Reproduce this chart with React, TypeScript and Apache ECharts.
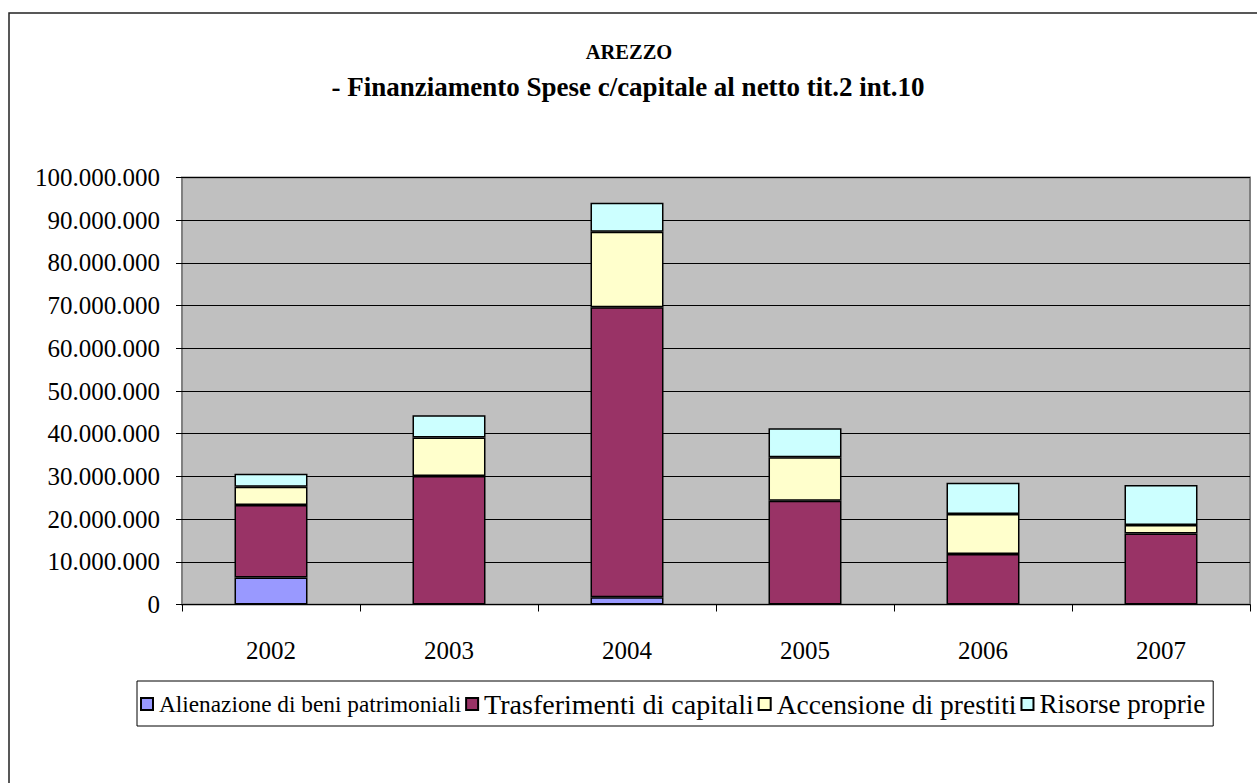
import React, { useEffect, useRef } from "react";
import * as echarts from "echarts";

const years = ["2002", "2003", "2004", "2005", "2006", "2007"];
const alienazione = [6.3, 0, 1.7, 0, 0, 0];
const trasferimenti = [17.0, 30.1, 67.9, 24.3, 11.8, 16.6];
const accensione = [4.3, 9.0, 17.7, 10.2, 9.4, 2.0];
const risorse = [3.0, 5.2, 6.8, 6.8, 7.3, 9.4];
const seriesNames = [
  "Alienazione di beni patrimoniali",
  "Trasferimenti di capitali",
  "Accensione di prestiti",
  "Risorse proprie",
];
const seriesColors = ["#9999FF", "#993366", "#FFFFCC", "#CCFFFF"];
const titleMain = "AREZZO";
const titleSub = "- Finanziamento Spese c/capitale al netto tit.2 int.10";

const toUnits = (arr: number[]) => arr.map((v) => (v === 0 ? "-" : Math.round(v * 1000000)));

function fmt(v: number) {
  return String(Math.round(v)).replace(/\B(?=(\d{3})+(?!\d))/g, ".");
}

export default function App() {
  const ref = useRef<HTMLDivElement>(null);
  useEffect(() => {
    if (!ref.current) return;
    const chart = echarts.init(ref.current, null, { renderer: "svg" });
    const font = "Liberation Serif";
    const dataSets = [alienazione, trasferimenti, accensione, risorse];
    const legendSizes = [23.3, 28, 27.5, 27];
    chart.setOption({
      animation: false,
      backgroundColor: "#ffffff",
      textStyle: { fontFamily: font },
      title: [
        {
          text: titleMain,
          left: 629,
          top: 41,
          padding: 0,
          textAlign: "center",
          textStyle: { fontFamily: font, fontSize: 20.5, fontWeight: "bold", color: "#000" },
        },
        {
          text: titleSub,
          left: 628,
          top: 73,
          padding: 0,
          textAlign: "center",
          textStyle: { fontFamily: font, fontSize: 27, fontWeight: "bold", color: "#000" },
        },
      ],
      graphic: [
        {
          type: "rect",
          shape: { x: 9, y: 13, width: 1400, height: 900 },
          style: { fill: "none", stroke: "#222", lineWidth: 1.5 },
          silent: true,
          z: -10,
        },
      ],
      legend: {
        left: 137,
        top: 681,
        orient: "horizontal",
        padding: [9, 8, 8, 3],
        itemGap: 4,
        itemWidth: 12,
        itemHeight: 12,
        icon: "rect",
        borderColor: "#000",
        borderWidth: 1,
        data: seriesNames.map((n, i) => ({
          name: n,
          textStyle: { fontSize: legendSizes[i] },
        })),
        textStyle: { fontFamily: font, fontSize: 25, color: "#000", padding: [0, 0, 0, 1] },
      },
      grid: {
        left: 182,
        top: 177.5,
        width: 1068,
        height: 427,
        show: true,
        backgroundColor: "#C0C0C0",
        borderColor: "#808080",
        borderWidth: 2,
      },
      xAxis: {
        type: "category",
        data: years,
        axisLine: { show: true, lineStyle: { color: "#000", width: 1 } },
        axisTick: { show: true, length: 7, lineStyle: { color: "#000" } },
        axisLabel: { fontFamily: font, fontSize: 25, color: "#000", margin: 33 },
      },
      yAxis: {
        type: "value",
        min: 0,
        max: 100000000,
        interval: 10000000,
        axisLine: { show: false },
        axisTick: { show: true, length: 6, lineStyle: { color: "#000" } },
        splitLine: { show: true, lineStyle: { color: "#000", width: 1 } },
        axisLabel: {
          fontFamily: font,
          fontSize: 25,
          color: "#000",
          margin: 22,
          formatter: (v: number) => fmt(v),
        },
      },
      series: dataSets.map((d, i) => ({
        name: seriesNames[i],
        type: "bar",
        stack: "total",
        barWidth: "41%",
        data: toUnits(d),
        itemStyle: { color: seriesColors[i], borderColor: "#000", borderWidth: 1.5 },
      })),
    });
    return () => chart.dispose();
  }, []);
  return (
    <div
      ref={ref}
      style={{ position: "absolute", left: 0, top: 0, width: 1257, height: 783 }}
    />
  );
}
